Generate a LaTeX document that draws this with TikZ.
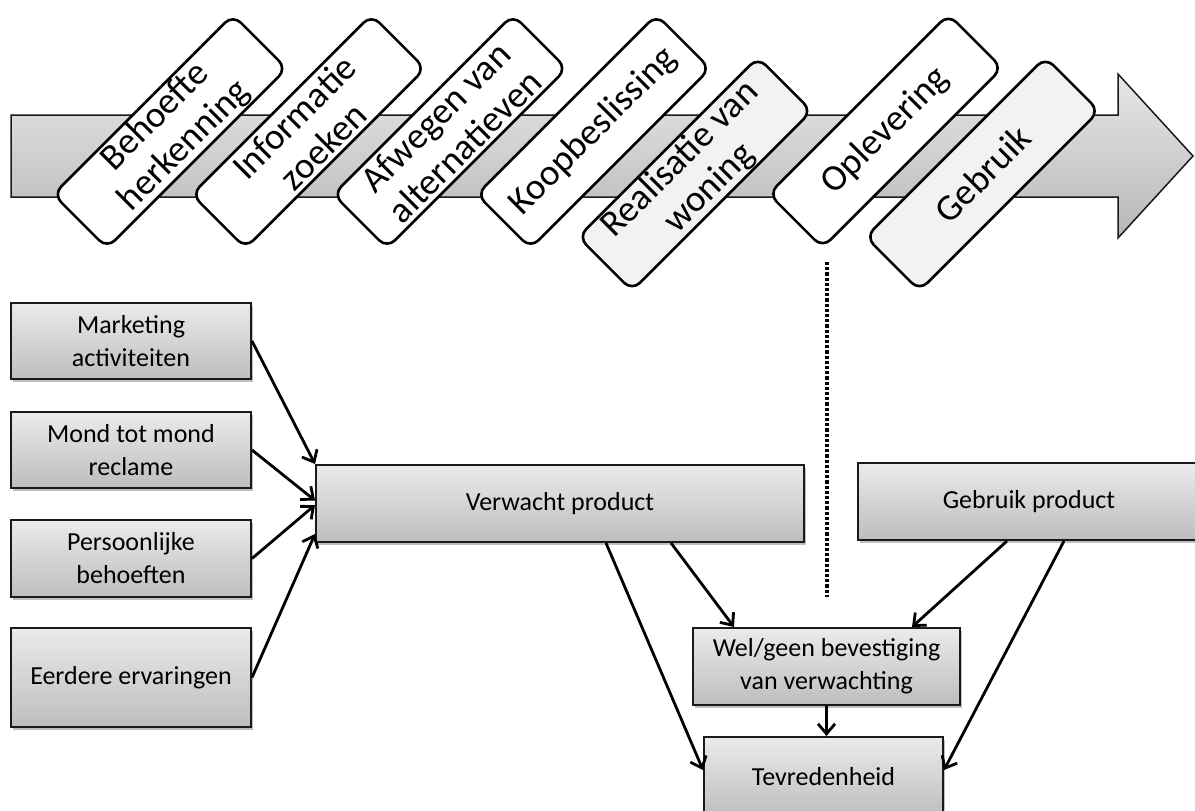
\documentclass[tikz,border=0pt]{standalone}
\usepackage{fontspec}
\setmainfont{Carlito}
\usetikzlibrary{arrows.meta,shadows}
\definecolor{gtop}{HTML}{EBEBEB}
\definecolor{gbot}{HTML}{BDBDBD}
\definecolor{atop}{HTML}{E6E6E6}
\definecolor{abot}{HTML}{B8B8B8}
\definecolor{lightfill}{HTML}{F2F2F2}
\definecolor{edge}{HTML}{1A1A1A}
\begin{document}
\begin{tikzpicture}[x=1pt,y=-1pt,
  flatbox/.style={draw=edge, line width=2pt, top color=gtop, bottom color=gbot,
    drop shadow={shadow xshift=2pt,shadow yshift=-2.5pt,opacity=0.25,fill=black},
    align=center, inner sep=0pt, font=\fontsize{26}{33}\selectfont},
  stage/.style={draw=black, line width=2.6pt, fill=white, rounded corners=11pt,
    minimum width=254pt, minimum height=76pt, rotate=45, align=center,
    inner sep=0pt, font=\fontsize{37}{41}\selectfont},
  stagegray/.style={stage, fill=lightfill},
  conn/.style={line width=2.8pt, -{Straight Barb[length=10pt,width=17pt]}},
  dotline/.style={line width=3.6pt, dash pattern=on 3.2pt off 2pt},
]
\useasboundingbox (0,0) rectangle (1195,811);

% big process arrow
\draw[line width=1.5pt, draw=edge, top color=atop, bottom color=abot]
  (11,115) -- (1118,115) -- (1118,74) -- (1193,156) -- (1118,238) -- (1118,197) -- (11,197) -- cycle;

% stages
\node[stage]     (s1) at (170,131.5)   {Behoefte\\herkenning};
\node[stage]     (s2) at (308.5,131.5) {Informatie\\zoeken};
\node[stage]     (s3) at (450,131.5)   {Afwegen van\\alternatieven};
\node[stage]     (s4) at (593.5,131.5) {Koopbeslissing};
\node[stagegray] (s5) at (695,174)     {Realisatie van\\woning};
\node[stage]     (s6) at (885.5,131)   {Oplevering};
\node[stagegray] (s7) at (982.5,174)   {Gebruik};

% dotted separator
\coordinate (dtop) at (827,262);
\coordinate (dbot) at (827,597);
\draw[dotline] (dtop) -- (dbot);

% boxes
\node[flatbox, minimum width=240pt, minimum height=76pt] (m1) at (131,341)   {Marketing\\activiteiten};
\node[flatbox, minimum width=240pt, minimum height=76pt] (m2) at (131,450)   {Mond tot mond\\reclame};
\node[flatbox, minimum width=240pt, minimum height=77pt] (m3) at (131,558.5) {Persoonlijke\\behoeften};
\node[flatbox, minimum width=240pt, minimum height=99pt] (m4) at (131,677.5) {Eerdere ervaringen};
\node[flatbox, minimum width=488pt, minimum height=77pt] (verw) at (560,503.5) {Verwacht product};
\node[flatbox, minimum width=342pt, minimum height=77pt] (gebr) at (1029,501.5) {Gebruik product};
\node[flatbox, minimum width=267pt, minimum height=77pt] (wel) at (826.5,666.5) {Wel/geen bevestiging\\van verwachting};
\node[flatbox, minimum width=239pt, minimum height=80pt] (tev) at (823.5,777) {Tevredenheid};

% connectors
\draw[conn] (m1.east) -- (verw.north west);
\draw[conn] (m2.east) -- ([yshift=3pt]verw.west);
\draw[conn] (m3.east) -- ([yshift=-1.5pt]verw.west);
\draw[conn] (m4.east) -- ([yshift=9pt]verw.south west);
\draw[conn] ([xshift=291pt]verw.south west) -- ([yshift=7pt]tev.west);
\draw[conn] ([xshift=356pt]verw.south west) -- ([xshift=42pt]wel.north west);
\draw[conn] ([xshift=150pt]gebr.south west) -- ([xshift=-49pt]wel.north east);
\draw[conn] ([xshift=207pt]gebr.south west) -- ([yshift=7pt]tev.east);
\draw[conn] (wel.south) -- (wel.south |- tev.north);
\end{tikzpicture}
\end{document}
